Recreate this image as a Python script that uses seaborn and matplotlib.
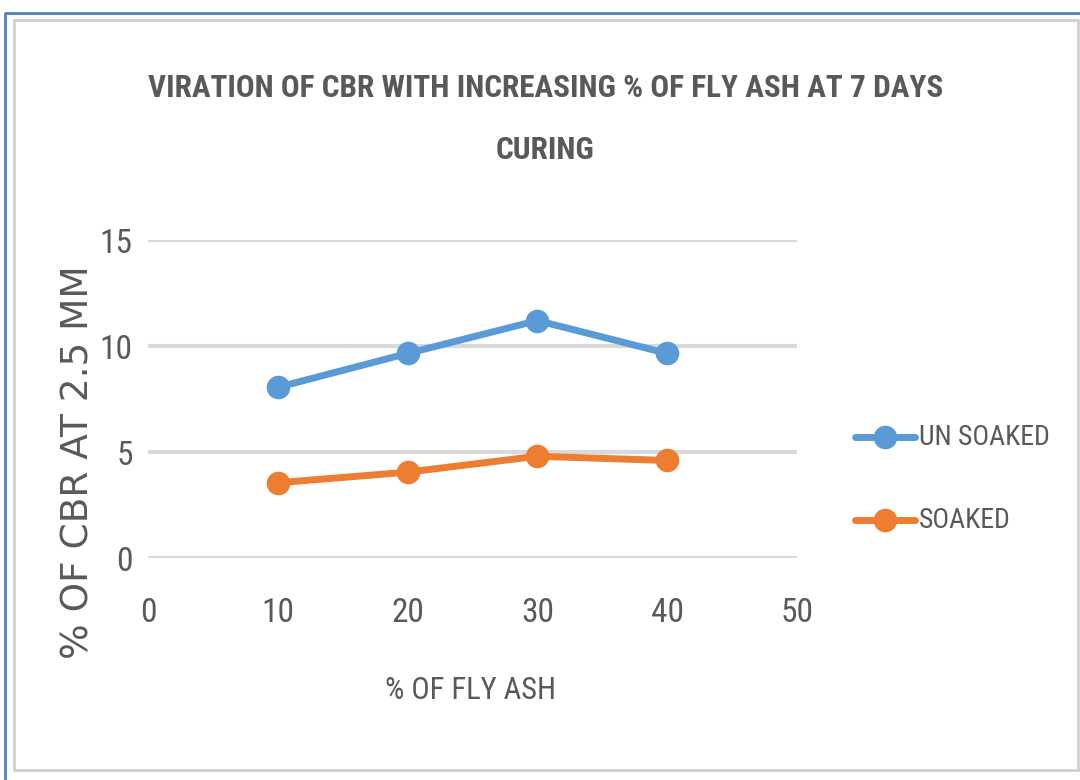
import pandas as pd
import seaborn as sns
import matplotlib.pyplot as plt
from matplotlib.patches import Rectangle

# Data
fly_ash = [10, 20, 30, 40]
unsoaked = [8.05, 9.65, 11.2, 9.65]
soaked = [3.55, 4.05, 4.8, 4.6]
series_names = ["UN SOAKED", "SOAKED"]
colors = ["#5B9BD5", "#ED7D31"]

df = pd.DataFrame({
    "FlyAsh": fly_ash * 2,
    "CBR": unsoaked + soaked,
    "Series": [series_names[0]] * 4 + [series_names[1]] * 4,
})

sns.set_style("white")
narrow = ["Roboto Condensed", "Liberation Sans", "DejaVu Sans"]
plt.rcParams["font.family"] = narrow
grey = "#595959"

fig = plt.figure(figsize=(10.8, 7.8), dpi=100)
ax = fig.add_axes([0.137, 0.2846, 0.601, 0.4077])

sns.lineplot(data=df, x="FlyAsh", y="CBR", hue="Series", palette=colors,
             marker="o", markersize=17, markeredgewidth=0, linewidth=5,
             ax=ax, legend=False)

ax.set_xlim(0, 50)
ax.set_ylim(0, 15)
ax.set_xticks([0, 10, 20, 30, 40, 50])
ax.set_yticks([0, 5, 10, 15])
ax.yaxis.grid(True, color="#D9D9D9", linewidth=3)
ax.set_axisbelow(True)
for s in ax.spines.values():
    s.set_visible(False)
ax.tick_params(axis="both", length=0, labelsize=24, labelcolor=grey)
ax.tick_params(axis="x", pad=28)
ax.tick_params(axis="y", pad=11)

ax.set_xlabel("% OF FLY ASH", fontsize=22, color=grey)
ax.xaxis.set_label_coords(0.497, -0.37)
ax.set_ylabel("% OF CBR AT 2.5 MM", fontsize=27, color=grey,
              family="DejaVu Sans", fontweight="medium")
ax.yaxis.set_label_coords(-0.08, 0.302)

fig.text(0.505, 0.887, "VIRATION OF CBR WITH INCREASING % OF FLY ASH AT 7 DAYS",
         ha="center", va="center", fontsize=22.5, fontweight="bold", color=grey)
fig.text(0.505, 0.808, "CURING", ha="center", va="center", fontsize=22.5,
         fontweight="bold", color=grey)

# legend drawn manually to the right
for i, (name, c) in enumerate(zip(series_names, colors)):
    y = 0.4397 - i * 0.1064
    fig.lines.append(plt.Line2D([0.7917, 0.847], [y, y], color=c, linewidth=5,
                                solid_capstyle="round",
                                transform=fig.transFigure))
    fig.lines.append(plt.Line2D([0.8195], [y], color=c, marker="o",
                                markersize=17, markeredgewidth=0,
                                transform=fig.transFigure))
    fig.text(0.851, y, name, ha="left", va="center", fontsize=20, color=grey)

# frame borders
fig.patches.append(Rectangle((0.013, 0.013), 0.985, 0.961, fill=False,
                             edgecolor="#D0D0D0", linewidth=2,
                             transform=fig.transFigure))
fig.lines.append(plt.Line2D([0.005, 0.005, 1.0], [0.0, 0.983, 0.983],
                            color="#4F81BD", linewidth=2,
                            transform=fig.transFigure))

fig.savefig("out.png", dpi=100)
